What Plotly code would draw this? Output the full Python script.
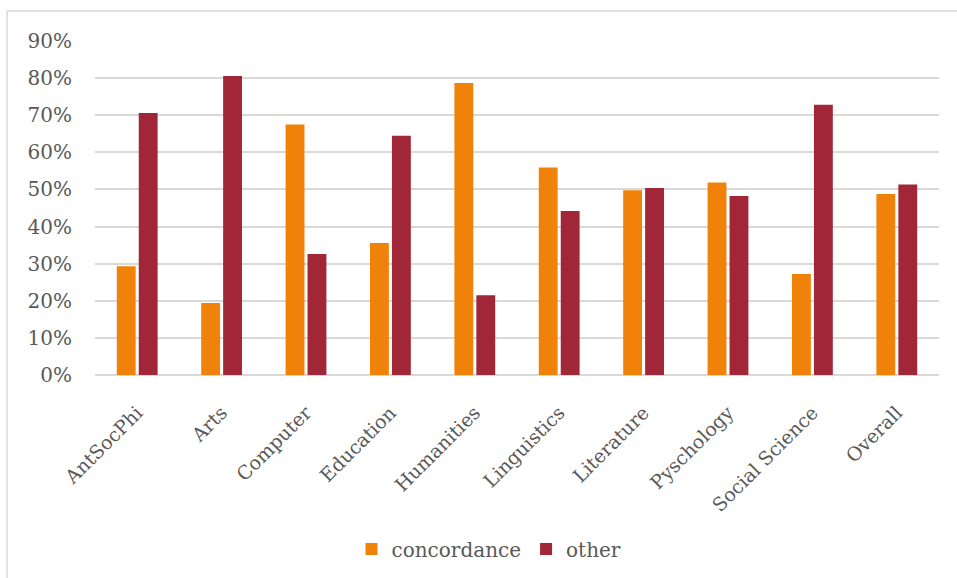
import plotly.graph_objects as go

categories = ["AntSocPhi", "Arts", "Computer", "Education", "Humanities",
              "Linguistics", "Literature", "Pyschology", "Social Science", "Overall"]
concordance = [0.293, 0.194, 0.675, 0.356, 0.787, 0.559, 0.498, 0.519, 0.272, 0.488]
other = [0.706, 0.806, 0.326, 0.645, 0.215, 0.442, 0.504, 0.482, 0.728, 0.513]
y_ticks = [0, 0.1, 0.2, 0.3, 0.4, 0.5, 0.6, 0.7, 0.8, 0.9]

FONT = "DejaVu Serif"
TXT = "#595959"

fig = go.Figure()
fig.add_trace(go.Bar(name="concordance", x=categories, y=concordance,
                     marker=dict(color="#F0820A", line=dict(width=0))))
fig.add_trace(go.Bar(name="other", x=categories, y=other,
                     marker=dict(color="#A12637", line=dict(width=0))))

W, H = 957, 578
L, R, T, B = 95, 18, 41, 203
pw, ph = W - L - R, H - T - B

def px_x(x):
    return (x - L) / pw

def px_y(y):
    return (H - B - y) / ph

fig.update_layout(
    width=W, height=H,
    margin=dict(l=L, r=R, t=T, b=B, autoexpand=False),
    paper_bgcolor="white", plot_bgcolor="white",
    barmode="group", bargap=0.48, bargroupgap=0.14,
    font=dict(family=FONT, color=TXT, size=20),
    showlegend=True,
    legend=dict(orientation="h", x=px_x(489), xanchor="center",
                y=px_y(549), yanchor="middle",
                font=dict(family=FONT, size=20, color=TXT),
                itemwidth=30, traceorder="normal"),
    xaxis=dict(tickangle=-45, tickfont=dict(family=FONT, size=19, color=TXT),
               showgrid=False, showline=False, ticks="",
               ticklabelstandoff=22),
    yaxis=dict(range=[0, 0.9], tickvals=y_ticks, tickformat=".0%",
               tickfont=dict(family=FONT, size=20, color=TXT),
               showgrid=True, gridcolor="#D9D9D9", gridwidth=1.5,
               zeroline=True, zerolinecolor="#D9D9D9", zerolinewidth=1.5,
               showline=False, ticks="", ticklabelstandoff=22),
    shapes=[
        dict(type="line", xref="paper", yref="paper",
             x0=px_x(7), x1=px_x(957), y0=px_y(11), y1=px_y(11),
             line=dict(color="#D9D9D9", width=1.5)),
        dict(type="line", xref="paper", yref="paper",
             x0=px_x(7), x1=px_x(7), y0=px_y(11), y1=px_y(578),
             line=dict(color="#D9D9D9", width=1.5)),
    ],
)

fig.write_html("out.html")
